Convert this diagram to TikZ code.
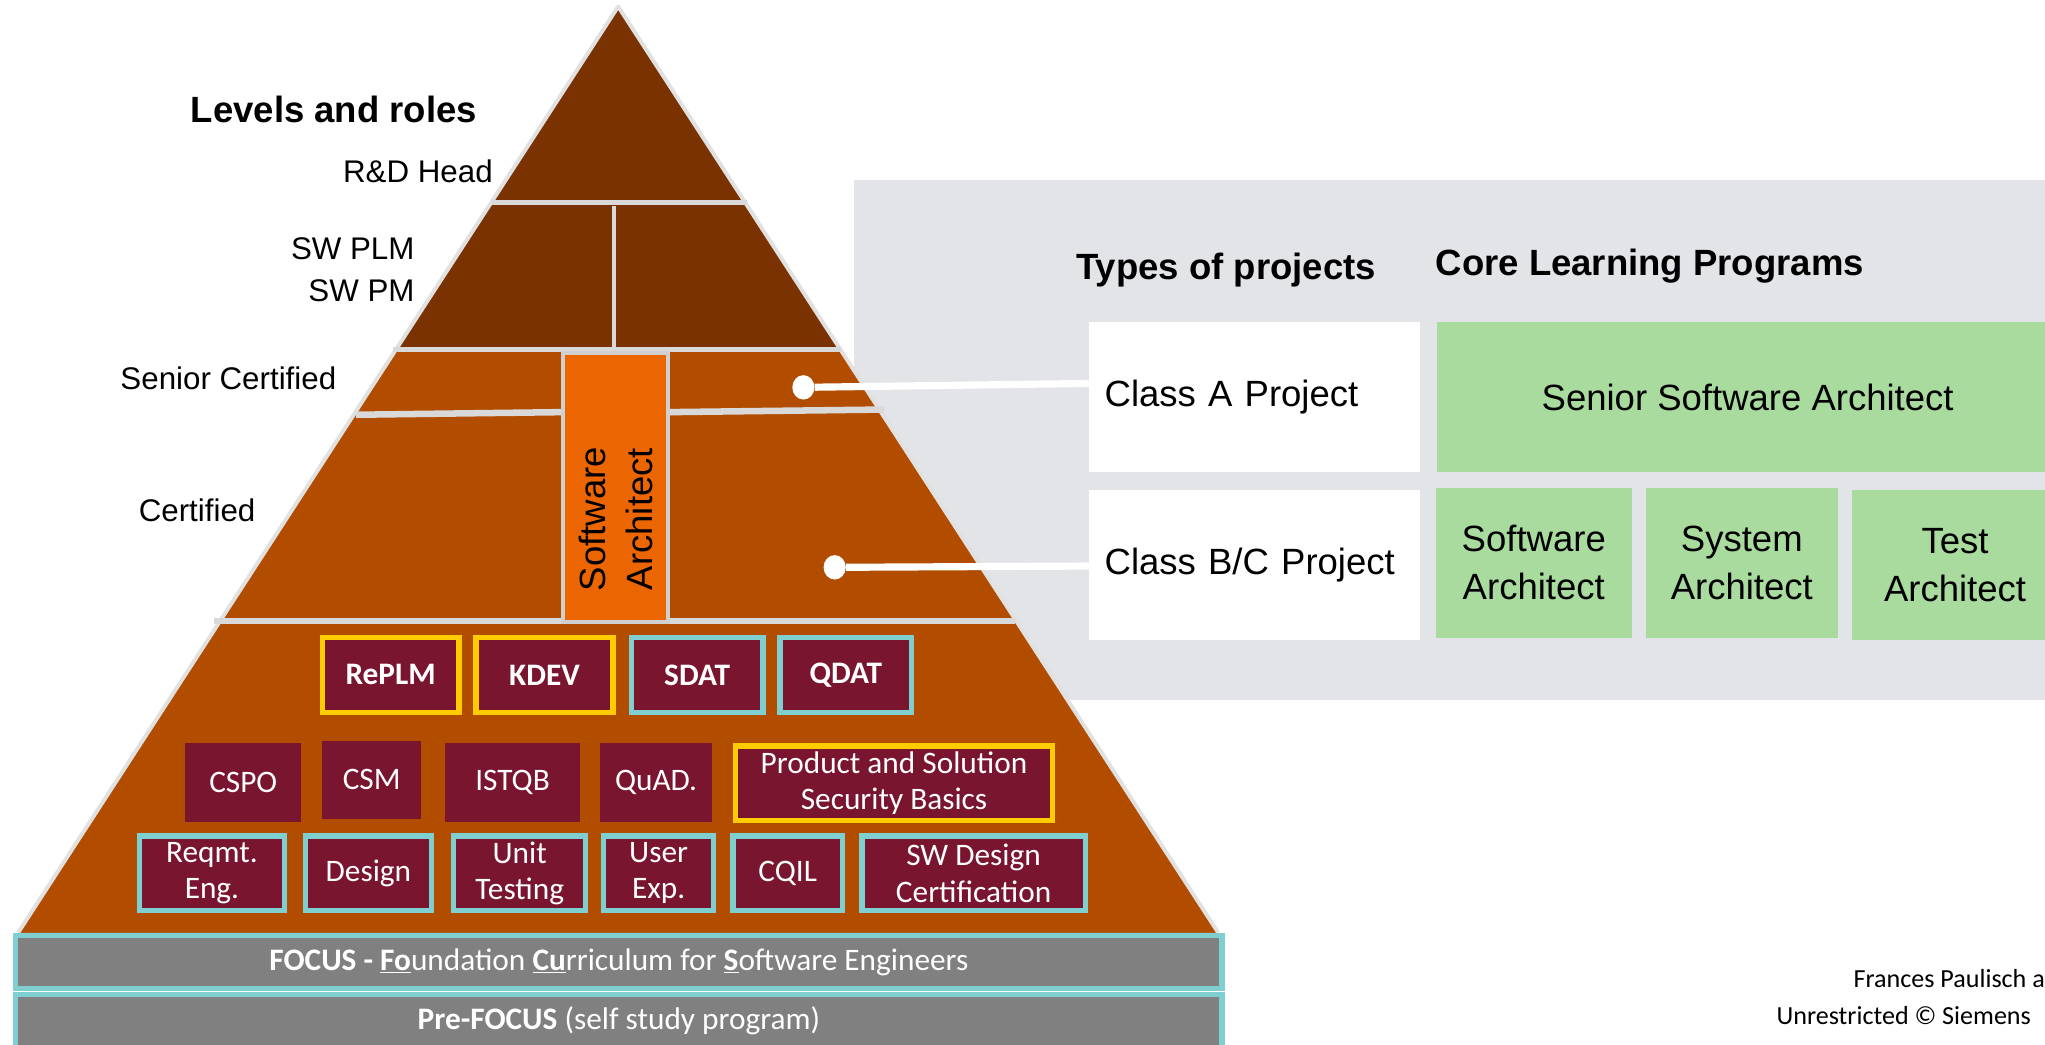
\documentclass[tikz,border=0pt]{standalone}
\usepackage{fontspec}
\setmainfont{Liberation Sans}
\newfontfamily\calfont{Carlito}
\definecolor{darkbrown}{HTML}{7A3300}
\definecolor{lightbrown}{HTML}{B24D00}
\definecolor{archorange}{HTML}{EB6500}
\definecolor{maroonc}{HTML}{7A1530}
\definecolor{goldc}{HTML}{FFCC00}
\definecolor{tealc}{HTML}{7FCFD0}
\definecolor{barc}{HTML}{808080}
\definecolor{panelc}{HTML}{E3E4E8}
\definecolor{greenc}{HTML}{A9DB9E}
\definecolor{sepc}{HTML}{D9D9D9}
\begin{document}
\begin{tikzpicture}[x=1pt,y=-1pt,
  sep/.style={draw=sepc, line width=4pt},
  course/.style={fill=maroonc, text=white, font=\calfont\fontsize{24}{28}\selectfont, align=center, inner sep=0pt},
  goldb/.style={course, draw=goldc, line width=4pt},
  tealb/.style={course, draw=tealc, line width=4pt},
  bar/.style={fill=barc, draw=tealc, line width=4pt, text=white, font=\calfont\fontsize{24}{28}\selectfont, inner sep=0pt},
  lab/.style={font=\fontsize{24}{32}\selectfont, inner sep=0pt},
  head/.style={font=\bfseries\fontsize{28}{33}\selectfont, inner sep=0pt},
  whitebox/.style={fill=white, font=\fontsize{28}{36}\selectfont, inner xsep=12pt, inner ysep=0pt, align=left},
  greenbox/.style={fill=greenc, font=\fontsize{28}{37}\selectfont, inner sep=0pt, align=center},
  dotn/.style={circle, fill=white, inner sep=0pt, minimum size=17pt, yscale=1.1},
  link/.style={draw=white, line width=5.5pt},
  footer/.style={font=\calfont\fontsize{20}{24}\selectfont, inner sep=0pt}]
\clip (0,0) rectangle (1568,801);
\fill[white] (0,0) rectangle (1568,801);
% grey panel
\fill[panelc] (655,138) rectangle (1600,537);
% pyramid
\fill[darkbrown] (474,5) -- (14,715) -- (934,715) -- cycle;
\fill[lightbrown] (303.6,268) -- (14,715) -- (934,715) -- (644.4,268) -- cycle;
\draw[sepc!80, line width=3pt, line join=round] (14,715) -- (474,5) -- (934,715);
% separators
\draw[sep] (377,155) -- (573,155);
\draw[sep, line width=3pt] (471,158) -- (471,268);
\draw[sep] (301,268) -- (645,268);
\draw[sep, line width=5pt] (273,318) -- (431,316);
\draw[sep, line width=5pt] (513,316) -- (678,314);
\draw[sep, line width=5pt] (164,476) -- (778,476);
% software architect vertical box
\node[fill=archorange, draw=sepc!90!gray, line width=3pt, rotate=90, minimum width=206pt, minimum height=80pt, inner sep=0pt] (swarch) at (472,374) {};
\node[rotate=90, inner sep=0pt, align=center, font=\fontsize{28}{36}\selectfont] (swarchtext) at (472,398) {Software\\Architect};
% left labels
\node[head] (levels) at (256,84) {Levels and roles};
\node[lab, anchor=east] (rdhead) at (378,131) {R\&D Head};
\node[lab, anchor=east, align=right] (swplm) at (318,207) {SW PLM\\SW PM};
\node[lab, anchor=east] (senior) at (258,290) {Senior Certified};
\node[lab, anchor=east] (cert) at (196,391) {Certified};
% right side
\node[head] (types) at (940,207) {Types of projects};
\node[head] (core) at (1265,204) {Core Learning Programs};
\node[whitebox, minimum width=254pt, minimum height=115pt, text width=230pt] (classA) at (962,304.5) {Class A Project};
\node[whitebox, minimum width=254pt, minimum height=115pt, text width=230pt] (classB) at (962,433.5) {Class B/C Project};
\node[greenbox, minimum width=476pt, minimum height=115pt] (ssa) at (1340,304.5) {Senior Software Architect};
\node[greenbox, minimum width=150pt, minimum height=115pt] (sa) at (1176,431.5) {Software\\Architect};
\node[greenbox, minimum width=147pt, minimum height=115pt] (sysa) at (1335.5,431.5) {System\\Architect};
\node[greenbox, minimum width=158pt, minimum height=115pt] (ta) at (1499,433.5) {Test\\Architect};
% dots and links
\node[dotn] (dotA) at (616,297) {};
\node[dotn] (dotB) at (640,435) {};
\coordinate (endA) at (classA.west |- 0,294);
\coordinate (endB) at (classB.west |- 0,434);
\draw[link] (dotA) -- (endA);
\draw[link] (dotB) -- (endB);
% row 1
\node[goldb, minimum width=105pt, minimum height=57pt] (replm) at (299.5,517.5) {\bfseries RePLM};
\node[goldb, minimum width=105pt, minimum height=57pt] (kdev) at (417.5,517.5) {\bfseries KDEV};
\node[tealb, minimum width=101pt, minimum height=57pt] (sdat) at (534.5,517.5) {\bfseries SDAT};
\node[tealb, minimum width=101pt, minimum height=57pt] (qdat) at (648.5,517.5) {\raisebox{3pt}{\bfseries QDAT}};
% row 2
\node[course, minimum width=89pt, minimum height=60pt] (cspo) at (186.5,600) {CSPO};
\node[course, minimum width=76pt, minimum height=60pt] (csm) at (285,598) {CSM};
\node[course, minimum width=104pt, minimum height=60pt] (istqb) at (393,600) {ISTQB};
\node[course, minimum width=86pt, minimum height=60pt] (quad) at (503,600) {QuAD.};
\node[goldb, minimum width=243pt, minimum height=57pt] (pssb) at (685.5,600.5) {Product and Solution\\Security Basics};
% row 3
\node[tealb, minimum width=111pt, minimum height=57pt] (reqmt) at (162.5,669.5) {Reqmt.\\Eng.};
\node[tealb, minimum width=97pt, minimum height=57pt] (design) at (282.5,669.5) {Design};
\node[tealb, minimum width=101pt, minimum height=57pt] (unit) at (398.5,669.5) {Unit\\Testing};
\node[tealb, minimum width=84pt, minimum height=57pt] (ux) at (505,669.5) {User\\Exp.};
\node[tealb, minimum width=84pt, minimum height=57pt] (cqil) at (604,669.5) {CQIL};
\node[tealb, minimum width=171pt, minimum height=57pt] (swdc) at (746.5,669.5) {SW Design\\Certification};
% bars
\node[bar, minimum width=925pt, minimum height=41pt] (focus) at (474.5,737.5) {\textbf{FOCUS -} \textbf{\underline{Fo}}undation \textbf{\underline{Cu}}rriculum for \textbf{\underline{S}}oftware Engineers};
\node[bar, minimum width=925pt, minimum height=41pt] (prefocus) at (474.5,783) {\textbf{Pre-FOCUS} (self study program)};
% footer
\node[footer, anchor=west] (f1) at (1421,750) {Frances Paulisch a};
\node[footer, anchor=west] (f2) at (1362,779) {Unrestricted © Siemens};
\end{tikzpicture}
\end{document}
